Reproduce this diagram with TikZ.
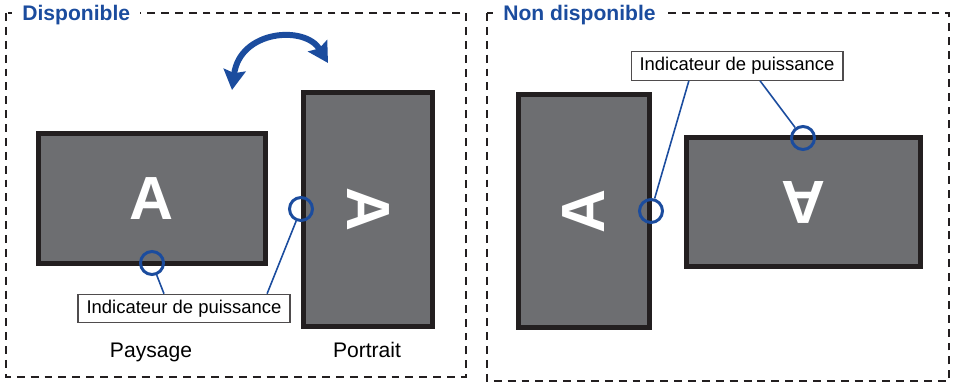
\documentclass[tikz,border=0pt]{standalone}
\usepackage{fontspec}
\setmainfont{Liberation Sans}
\usetikzlibrary{arrows.meta,calc}

\definecolor{panel}{HTML}{6D6E71}
\definecolor{bezel}{HTML}{231F20}
\definecolor{ledblue}{HTML}{1B4C9E}

\tikzset{
  frame/.style={draw=bezel, line width=1.1pt, dash pattern=on 4.5pt off 3.4pt},
  title/.style={fill=white, text=ledblue, inner xsep=0.2cm, font=\fontsize{12}{14}\selectfont\bfseries},
  screen/.style={draw=bezel, fill=panel, line width=2.85pt, inner sep=0pt, text=white,
    font=\fontsize{34.7}{40}\selectfont\bfseries},
  led/.style={circle, draw=ledblue, line width=1.7pt, minimum size=0.46cm, inner sep=0pt},
  lead/.style={ledblue, line width=0.9pt},
  tag/.style={draw=bezel!80, line width=0.6pt, fill=white, minimum width=4.24cm, minimum height=0.57cm,
    inner sep=0pt, font=\fontsize{10.5}{12}\selectfont},
  caption/.style={font=\fontsize{12}{14}\selectfont},
  swing/.style={ledblue, line width=3.4pt,
    {Stealth[length=0.4cm,width=0.44cm,inset=0.06cm]}-{Stealth[length=0.4cm,width=0.44cm,inset=0.06cm]}}
}

\begin{document}
\begin{tikzpicture}[x=0.02cm, y=-0.02cm]
\useasboundingbox (0,0) rectangle (956,384);

% left panel
\draw[frame] (6,13) rectangle (466,377);
\node[title, anchor=base west] (ttlL) at (12,21) {Disponible};

\node[screen, minimum width=4.54cm, minimum height=2.6cm] (scrLand) at (152,198.5) {A};
\node[screen, rotate=-90, minimum width=4.68cm, minimum height=2.58cm] (scrPort) at (368,209.5) {A};

\coordinate (swingA) at (232,90);
\coordinate (swingB) at (328,63);
\draw[swing] (swingA) .. controls (240,30) and (305,25) .. (swingB);

\node[tag] (lblL) at (184,308.5) {Indicateur de puissance};
\node[led] (dotLand) at (152,263) {};
\node[led] (dotPort) at (301,209) {};
\draw[lead] (dotLand) -- ($(lblL.north west)!0.406!(lblL.north east)$);
\draw[lead] (dotPort) -- ($(lblL.north west)!0.89!(lblL.north east)$);

\node[caption, anchor=base] (capLand) at (151,358) {Paysage};
\node[caption, anchor=base] (capPort) at (367,358) {Portrait};

% right panel
\draw[frame] (487,13) rectangle (949,381);
\node[title, anchor=base west] (ttlR) at (493,21) {Non disponible};

\node[screen, rotate=90, minimum width=4.66cm, minimum height=2.62cm] (scrSide) at (584,211) {A};
\node[screen, rotate=180, minimum width=4.68cm, minimum height=2.58cm] (scrFlip) at (803.5,202) {A};

\node[tag] (lblR) at (737,66) {Indicateur de puissance};
\node[led] (dotSide) at (651,211) {};
\node[led] (dotFlip) at (803,138) {};
\draw[lead] (dotSide) -- ($(lblR.south west)!0.274!(lblR.south east)$);
\draw[lead] (dotFlip) -- ($(lblR.south west)!0.608!(lblR.south east)$);
\end{tikzpicture}
\end{document}
